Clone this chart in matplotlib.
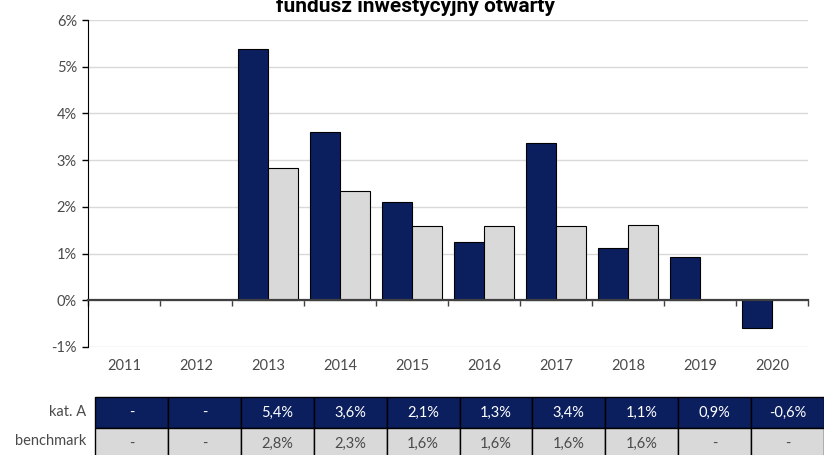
import matplotlib
matplotlib.use('Agg')
from matplotlib import pyplot as plt
import matplotlib.ticker as ticker
import numpy as np

plt.rcParams['font.family'] = ['Lato', 'DejaVu Sans']
plt.rcParams['axes.unicode_minus'] = False

years = ['2011', '2012', '2013', '2014', '2015', '2016', '2017', '2018', '2019', '2020']
kat_a = [np.nan, np.nan, 5.38, 3.6, 2.1, 1.25, 3.36, 1.12, 0.93, -0.6]
benchmark = [np.nan, np.nan, 2.84, 2.33, 1.6, 1.58, 1.6, 1.62, np.nan, np.nan]
kat_a_txt = ['-', '-', '5,4%', '3,6%', '2,1%', '1,3%', '3,4%', '1,1%', '0,9%', '-0,6%']
bench_txt = ['-', '-', '2,8%', '2,3%', '1,6%', '1,6%', '1,6%', '1,6%', '-', '-']
row_names = ['kat. A', 'benchmark']
title = 'fundusz inwestycyjny otwarty'

navy = '#0b1f5f'
light = '#d9d9d9'
grey_txt = '#4a4a4a'

W, H = 824, 455
fig = plt.figure(figsize=(W / 100, H / 100), dpi=100)

# main chart
ax = fig.add_axes([88 / W, 1 - 347 / H, 720 / W, 327 / H])
x = np.arange(len(years))
bw = 0.4167
ax.bar(x - bw / 2, kat_a, bw, color=navy, edgecolor='black', linewidth=0.8, zorder=3)
ax.bar(x + bw / 2, benchmark, bw, color=light, edgecolor='black', linewidth=0.8, zorder=3)

ax.set_xlim(-0.5, len(years) - 0.5)
ax.set_ylim(-1, 6)
ax.set_yticks(range(-1, 7))
ax.yaxis.set_major_formatter(ticker.FuncFormatter(lambda y, _: '{:.0f}%'.format(y)))
ax.tick_params(axis='y', length=4, width=1, color='black', labelsize=10.5,
               labelcolor=grey_txt, pad=4)
ax.yaxis.grid(True, color='#d9d9d9', linewidth=1, zorder=0)

for s in ['top', 'right']:
    ax.spines[s].set_visible(False)
ax.spines['left'].set_color('black')
ax.spines['bottom'].set_position(('data', 0))
ax.spines['bottom'].set_color('#404040')
ax.spines['bottom'].set_linewidth(1.6)
ax.spines['bottom'].set_zorder(4)
ax.set_xticks(np.arange(len(years) + 1) - 0.5)
ax.set_xticklabels([])
ax.tick_params(axis='x', length=4, width=1, color='#404040', direction='out')

sec = ax.secondary_xaxis('bottom')
sec.set_xticks(x, years)
sec.tick_params(length=0, pad=9, labelsize=10.5, labelcolor=grey_txt)
sec.spines['bottom'].set_visible(False)

fig.text(415 / W, 1 - 12 / H, title, ha='center', va='baseline',
         fontsize=15, fontweight='bold', family=['Roboto', 'DejaVu Sans'],
         color='black')

# data table
tab_ax = fig.add_axes([95 / W, -4 / H, 729 / W, 62 / H])
tab_ax.axis('off')
cell_colours = [[navy] * len(years), [light] * len(years)]
tab = tab_ax.table(cellText=[kat_a_txt, bench_txt], cellColours=cell_colours,
                   cellLoc='center', bbox=[0, 0, 1, 1])
tab.auto_set_font_size(False)
for (r, c), cell in tab.get_celld().items():
    cell.set_edgecolor('black')
    cell.set_linewidth(1)
    cell.get_text().set_fontsize(10.5)
    cell.get_text().set_color('white' if r == 0 else grey_txt)

row_y = [412, 441]
for name, yy in zip(row_names, row_y):
    fig.text(86 / W, 1 - yy / H, name, ha='right', va='center',
             fontsize=10.5, color=grey_txt)

fig.savefig('out.png', dpi=100)
